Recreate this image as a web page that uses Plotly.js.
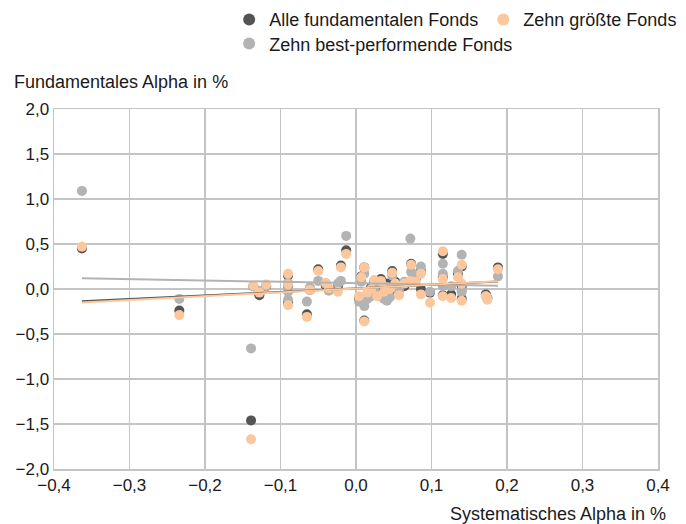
<!DOCTYPE html>
<html>
<head>
<meta charset="utf-8">
<script src="https://cdn.plot.ly/plotly-3.0.1.min.js"></script>
<style>html,body{margin:0;padding:0;background:#fff}#chart{width:686px;height:524px}</style>
</head>
<body>
<div id="chart"></div>
<script>
// Systematisches Alpha (x) per fund
var systematicAlpha = [-0.363,-0.234,-0.139,-0.136,-0.128,-0.119,-0.090,-0.090,-0.090,-0.065,-0.061,-0.050,-0.040,-0.036,-0.024,-0.020,-0.013,
  0.004,0.007,0.011,0.011,0.015,0.020,0.024,0.028,0.033,0.037,0.041,0.045,0.048,0.052,0.057,0.064,0.072,0.073,0.079,0.086,0.086,0.098,
  0.115,0.115,0.115,0.126,0.135,0.140,0.140,0.140,0.172,0.174,0.188];
// Fundamentales Alpha per series
var allFunds =     [0.45,-0.24,-1.46,0.03,-0.07,0.03,0.15,0.04,-0.15,-0.28,-0.01,0.22,0.04,-0.01,0.03,0.26,0.43,
  -0.10,0.14,0.24,-0.35,-0.06,0.02,0.08,-0.03,0.11,-0.06,0.06,-0.02,0.20,0.08,0.00,0.03,0.08,0.28,0.11,0.20,0.00,-0.04,
  0.39,0.13,-0.07,-0.06,0.17,0.25,0.03,-0.11,-0.06,-0.10,0.24];
var bestFunds =    [1.09,-0.11,-0.66,0.03,-0.02,0.03,0.07,-0.03,-0.12,-0.14,0.02,0.09,0.06,-0.02,0.06,0.09,0.59,
  -0.14,0.08,0.17,-0.19,-0.11,-0.08,0.00,-0.07,0.06,-0.11,-0.13,-0.09,0.15,0.02,-0.02,0.08,0.56,0.19,0.13,0.25,0.19,-0.03,
  0.28,0.17,0.03,0.03,0.20,0.38,-0.02,-0.03,-0.08,-0.10,0.14];
var largestFunds = [0.47,-0.29,-1.67,0.04,-0.04,0.05,0.17,0.05,-0.18,-0.31,-0.01,0.20,0.07,0.01,-0.03,0.24,0.39,
  -0.08,0.13,0.24,-0.36,-0.04,0.00,0.10,-0.08,0.09,-0.03,0.02,0.00,0.18,0.06,-0.07,0.06,0.09,0.27,0.08,0.17,-0.06,-0.15,
  0.42,0.11,-0.08,-0.10,0.13,0.27,0.06,-0.13,-0.08,-0.12,0.22];
// Trend lines: [intercept, slope]
var trendAll = [0.008, 0.40];
var trendBest = [0.064, -0.154];
var trendLargest = [0.006, 0.43];

var seriesNames = ['Alle fundamentalen Fonds', 'Zehn best-performende Fonds', 'Zehn größte Fonds'];
var colors = ['#545454', '#b3b3b3', '#fcc79c'];
var legendIds = ['legend', 'legend2', 'legend'];
var xTicks = [-0.4,-0.3,-0.2,-0.1,0,0.1,0.2,0.3,0.4];
var yTicks = [-2,-1.5,-1,-0.5,0,0.5,1,1.5,2];

var xMin = Math.min.apply(null, systematicAlpha), xMax = Math.max.apply(null, systematicAlpha);
function trendTrace(p, color){
  return {x:[xMin,xMax], y:[p[0]+p[1]*xMin, p[0]+p[1]*xMax], mode:'lines', type:'scatter',
    line:{color:color, width:2}, showlegend:false, hoverinfo:'skip'};
}
var ys = [allFunds, bestFunds, largestFunds];
var traces = ys.map(function(y,i){
  return {x:systematicAlpha, y:y, mode:'markers', type:'scatter', name:seriesNames[i], legend:legendIds[i],
    marker:{color:colors[i], size:10, line:{width:0}}};
});
traces.push(trendTrace(trendBest, colors[1]));
traces.push(trendTrace(trendAll, colors[0]));
traces.push(trendTrace(trendLargest, colors[2]));

var font = 'Liberation Sans, Arial, sans-serif';
var textColor = '#1a1a1a';
var gridColor = '#c4c4c4';
var legendBase = {orientation:'h', xanchor:'left', yanchor:'middle', xref:'paper', yref:'paper',
  font:{family:font, size:18, color:textColor}, traceorder:'normal', itemsizing:'constant',
  bgcolor:'rgba(0,0,0,0)', borderwidth:0};
var layout = {
  width:686, height:524,
  margin:{l:54, r:28, t:109, b:55, autoexpand:false},
  paper_bgcolor:'#fff', plot_bgcolor:'#fff',
  separators:',.',
  font:{family:font, size:17, color:textColor},
  showlegend:true,
  legend:Object.assign({}, legendBase, {x:0.29, y:1.248}),
  legend2:Object.assign({}, legendBase, {x:0.29, y:1.181}),
  xaxis:{range:[-0.4,0.4], tickvals:xTicks, tickformat:'.1f', showgrid:true, gridcolor:gridColor, gridwidth:1.5,
    zeroline:false, showline:true, linecolor:gridColor, linewidth:1.5, mirror:true, ticks:'', fixedrange:true},
  yaxis:{range:[-2,2], tickvals:yTicks, tickformat:'.1f', showgrid:true, gridcolor:gridColor, gridwidth:1.5,
    zeroline:false, showline:true, linecolor:gridColor, linewidth:1.5, mirror:true, ticks:'', fixedrange:true},
  annotations:[
    {text:'Fundamentales Alpha in %', xref:'paper', yref:'paper', x:-0.07, y:1.076, xanchor:'left', yanchor:'middle',
      showarrow:false, font:{family:font, size:18, color:textColor}},
    {text:'Systematisches Alpha in %', xref:'paper', yref:'paper', x:1.0166, y:-0.124, xanchor:'right', yanchor:'middle',
      showarrow:false, font:{family:font, size:18, color:textColor}}
  ]
};
Plotly.newPlot('chart', traces, layout, {displayModeBar:false, staticPlot:true});
</script>
</body>
</html>
